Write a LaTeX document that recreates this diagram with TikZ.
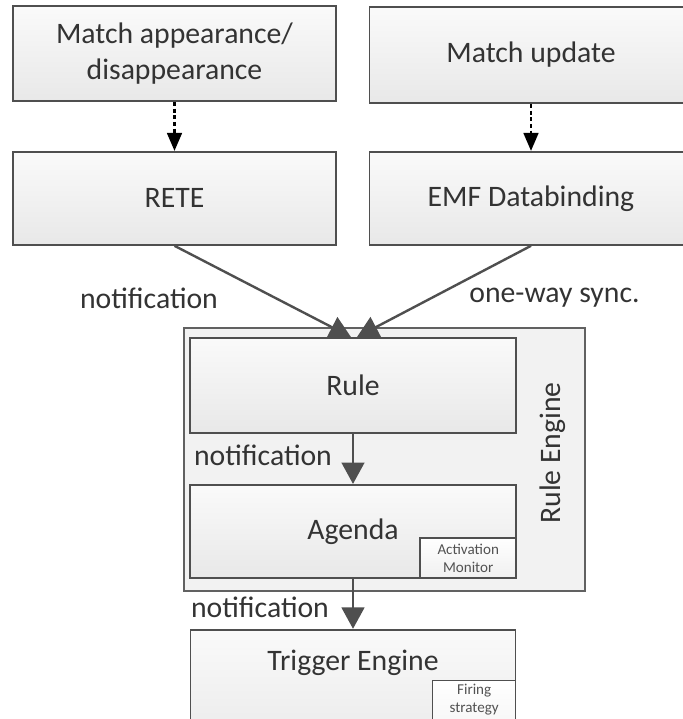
\documentclass[tikz,border=0pt]{standalone}
\usepackage{fontspec}
\setmainfont{Carlito}
\usetikzlibrary{positioning,arrows.meta}

\definecolor{edgegray}{HTML}{4F4F4F}
\definecolor{textgray}{HTML}{333333}

\begin{document}
\begin{tikzpicture}[x=0.75pt,y=0.75pt,
% Box styles
		box/.style={rectangle
							    , draw=edgegray, line width=1.4pt
							    , top color=black!2, bottom color=black!9
							    , text=textgray
							    , font=\fontsize{22.3pt}{27pt}\selectfont
							    , align=center
							    , inner sep=0pt},
		smalltext/.style={text=textgray!85
							    , font=\fontsize{11.3pt}{13.5pt}\selectfont
							    , align=center
							    , inner sep=2pt},
		smallbox/.style={rectangle, smalltext
							    , draw=edgegray, line width=1.1pt
							    , top color=white, bottom color=black!6},
		enginebox/.style={rectangle
							    , draw=edgegray!90, line width=1.4pt
							    , fill=black!5},
		lbl/.style={text=textgray
							    , font=\fontsize{22.3pt}{27pt}\selectfont
							    , inner sep=0pt},
% Connector styles
		flow/.style={draw=edgegray, line width=1.8pt
							    , -{Triangle[width=17pt,length=16pt]}},
		cause/.style={draw=black, line width=2pt
							    , dash pattern=on 3pt off 2pt
							    , -{Triangle[width=11pt,length=13.5pt]}}
	]
	\useasboundingbox (0,0) rectangle (683,719);
	\clip (0,0) rectangle (683,719);

%% Sources
	\node [box, minimum width=242.25pt, minimum height=71.25pt] (appear) at (174.5,665.5) {Match appearance/\\disappearance};
	\node [box, minimum width=242.25pt, minimum height=72pt] (update) at (531,664) {Match update};
	\node [box, minimum width=242.25pt, minimum height=69.75pt] (rete) [below=36.75pt of appear] {RETE};
	\node [box, minimum width=242.25pt, minimum height=69.75pt] (emf) [below=35.25pt of update] {EMF Databinding};

%% Rule engine
	\node [enginebox, minimum width=300.75pt, minimum height=197.25pt] (engine) at (384.5,259.5) {};
	\node [box, minimum width=244.5pt, minimum height=71.25pt] (rule) at (353,333.5) {Rule};
	\node [box, minimum width=244.5pt, minimum height=69.75pt] (agenda) [below=37.5pt of rule] {Agenda};
	\node [smallbox, minimum width=72pt, minimum height=30pt, anchor=south east] (monitor) at (agenda.south east) {Activation\\Monitor};
	\node [lbl, rotate=90] (enginelabel) at (553,266) {Rule Engine};

%% Trigger engine
	\node [box, minimum width=243.75pt, minimum height=97.5pt
	      , label={[lbl, anchor=center, yshift=-25.5pt]north:Trigger Engine}] (trigger) [below=37.5pt of agenda] {};
	\node [smallbox, minimum width=62.25pt, minimum height=60pt, anchor=north east
	      , label={[smalltext, anchor=north, yshift=-1pt]north:{Firing\\strategy}}] (firing) at ([yshift=-38.25pt]trigger.north east) {};

%% Connectors
	\draw [cause] (appear) -- (rete);
	\draw [cause] (update) -- (emf);
	\draw [flow] (rete.south) -- ([xshift=-1.5pt]rule.north);
	\draw [flow] (emf.south) -- ([xshift=3pt]rule.north);
	\draw [flow] (rule) -- (agenda);
	\draw [flow] (agenda.south) -- (agenda.south |- trigger.north);

%% Connector labels
	\node [lbl] (n1) at (149,421) {notification};
	\node [lbl] (sync) at (554.5,421) {one-way sync.};
	\node [lbl] (n2) at (263,264) {notification};
	\node [lbl] (n3) at (260,112) {notification};
\end{tikzpicture}
\end{document}
